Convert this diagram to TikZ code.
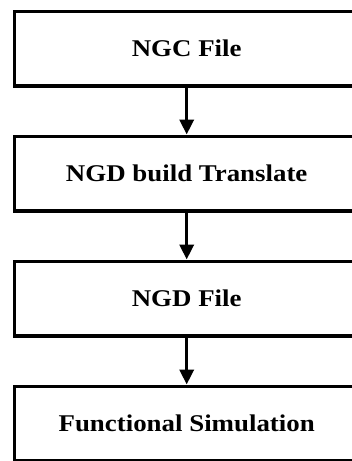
\documentclass[tikz,border=0pt]{standalone}
\usepackage{fontspec}
\setmainfont[FakeStretch=1.12]{Liberation Serif}
\usetikzlibrary{matrix,arrows.meta}
\tikzset{
  stagebox/.style={draw, line width=3.5pt, minimum width=344.5pt, minimum height=74.5pt,
    inner sep=0pt, font=\fontsize{24}{28}\selectfont\bfseries},
  flowarrow/.style={line width=3.5pt, -{Triangle[length=15pt,width=14pt]}}
}

\begin{document}
\begin{tikzpicture}[x=1pt,y=1pt]
			\clip (0,0) rectangle (352,-461);
			\matrix (f) [matrix of nodes, row sep=47pt, nodes={stagebox}, anchor=north] at (186.7,-6)
			{
				NGC File\\
				NGD build Translate\\
				NGD File\\
				Functional Simulation\\
			};
			\path[flowarrow]
			(f-1-1) edge (f-2-1)
			(f-2-1) edge (f-3-1)
			(f-3-1) edge (f-4-1);
		\end{tikzpicture}
\end{document}
